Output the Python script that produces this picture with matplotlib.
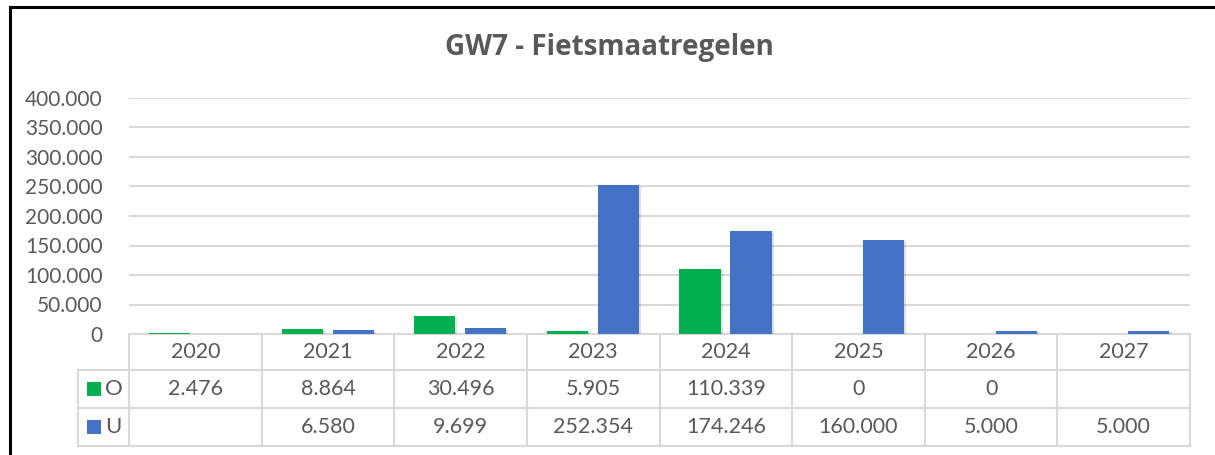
import matplotlib.pyplot as plt
import matplotlib.patheffects as pe
from matplotlib.patches import Rectangle
from matplotlib.lines import Line2D

# chart data
years = ["2020", "2021", "2022", "2023", "2024", "2025", "2026", "2027"]
series_names = ["O", "U"]
o_values = [2476, 8864, 30496, 5905, 110339, 0, 0, None]
u_values = [None, 6580, 9699, 252354, 174246, 160000, 5000, 5000]
y_ticks = [0, 50000, 100000, 150000, 200000, 250000, 300000, 350000, 400000]

GREEN = "#00B050"
BLUE = "#4472C4"
TEXT = "#595959"
GRID = "#D9D9D9"
FONT = "Lato"


def fmt(v):
    # dutch style thousands separator
    if v is None:
        return ""
    return f"{v:,}".replace(",", ".")


fig = plt.figure(figsize=(12.15, 4.55), dpi=100)
ax = fig.add_axes([129 / 1215, 1 - 334 / 455, 1061 / 1215, 236 / 455])

n = len(years)
width = 0.31
shadow = [pe.SimplePatchShadow(offset=(1.5, -1.0), shadow_rgbFace="#000000", alpha=0.12), pe.Normal()]
for vals, off, color in [(o_values, -0.195, GREEN), (u_values, 0.19, BLUE)]:
    xs = [i + 0.5 + off for i, v in enumerate(vals) if v is not None]
    hs = [v for v in vals if v is not None]
    bars = ax.bar(xs, hs, width=width, color=color, zorder=3)
    for b in bars:
        if b.get_height() > 4000:
            b.set_path_effects(shadow)

ax.set_xlim(0, n)
ax.set_ylim(0, 400000)
ax.set_yticks(y_ticks)
ax.set_yticklabels([fmt(t) for t in y_ticks], fontsize=15, color=TEXT, family=FONT)
ax.tick_params(axis="y", length=0, pad=19)
ax.set_xticks([])
ax.grid(axis="y", color=GRID, linewidth=1.5, zorder=0)
for s in ax.spines.values():
    s.set_visible(False)

# data table under the plot, drawn in axes coords for y
ph = 236.0
row_lines = [0, -36 / ph, -74 / ph, -112 / ph]
legend_x = -51 / 1061 * n  # left edge of legend column in data units
trans = ax.get_xaxis_transform()
lk = dict(color=GRID, linewidth=1.5, transform=trans, clip_on=False, zorder=1)
ax.add_line(Line2D([0, n], [row_lines[0]] * 2, **lk))
for y in row_lines[1:]:
    ax.add_line(Line2D([legend_x, n], [y, y], **lk))
ax.add_line(Line2D([legend_x, legend_x], [row_lines[1], row_lines[3]], **lk))
for i in range(n + 1):
    ax.add_line(Line2D([i, i], [row_lines[0], row_lines[3]], **lk))

tk = dict(ha="center", va="center", fontsize=15.5, color=TEXT, family=FONT, transform=trans, clip_on=False)
mid = lambda a, b: (a + b) / 2
for i, yr in enumerate(years):
    ax.text(i + 0.5, mid(row_lines[0], row_lines[1]), yr, **tk)
    ax.text(i + 0.5, mid(row_lines[1], row_lines[2]), fmt(o_values[i]), **tk)
    ax.text(i + 0.5, mid(row_lines[2], row_lines[3]), fmt(u_values[i]), **tk)

# legend keys in the table
sq = 14 / 1061 * n
for r, (name, color) in enumerate(zip(series_names, [GREEN, BLUE])):
    yc = mid(row_lines[r + 1], row_lines[r + 2])
    ax.add_patch(Rectangle((legend_x + 9 / 1061 * n, yc - 7 / ph), sq, 14 / ph,
                           facecolor=color, edgecolor="none", transform=trans, clip_on=False))
    ax.text(legend_x + 27 / 1061 * n, yc, name, ha="left", va="center", fontsize=16,
            color=TEXT, family=FONT, transform=trans, clip_on=False)

fig.text(609 / 1215, 1 - 48 / 455, "GW7 - Fietsmaatregelen", ha="center", va="center",
         fontsize=20, fontweight="bold", color=TEXT, family="Open Sans")

# black frame on left and top
fig.add_artist(Line2D([10 / 1215, 10 / 1215], [0, 1 - 6.5 / 455], color="black", linewidth=2.2))
fig.add_artist(Line2D([10 / 1215, 1], [1 - 6.5 / 455] * 2, color="black", linewidth=2.2))

fig.savefig("out.png", dpi=100)
